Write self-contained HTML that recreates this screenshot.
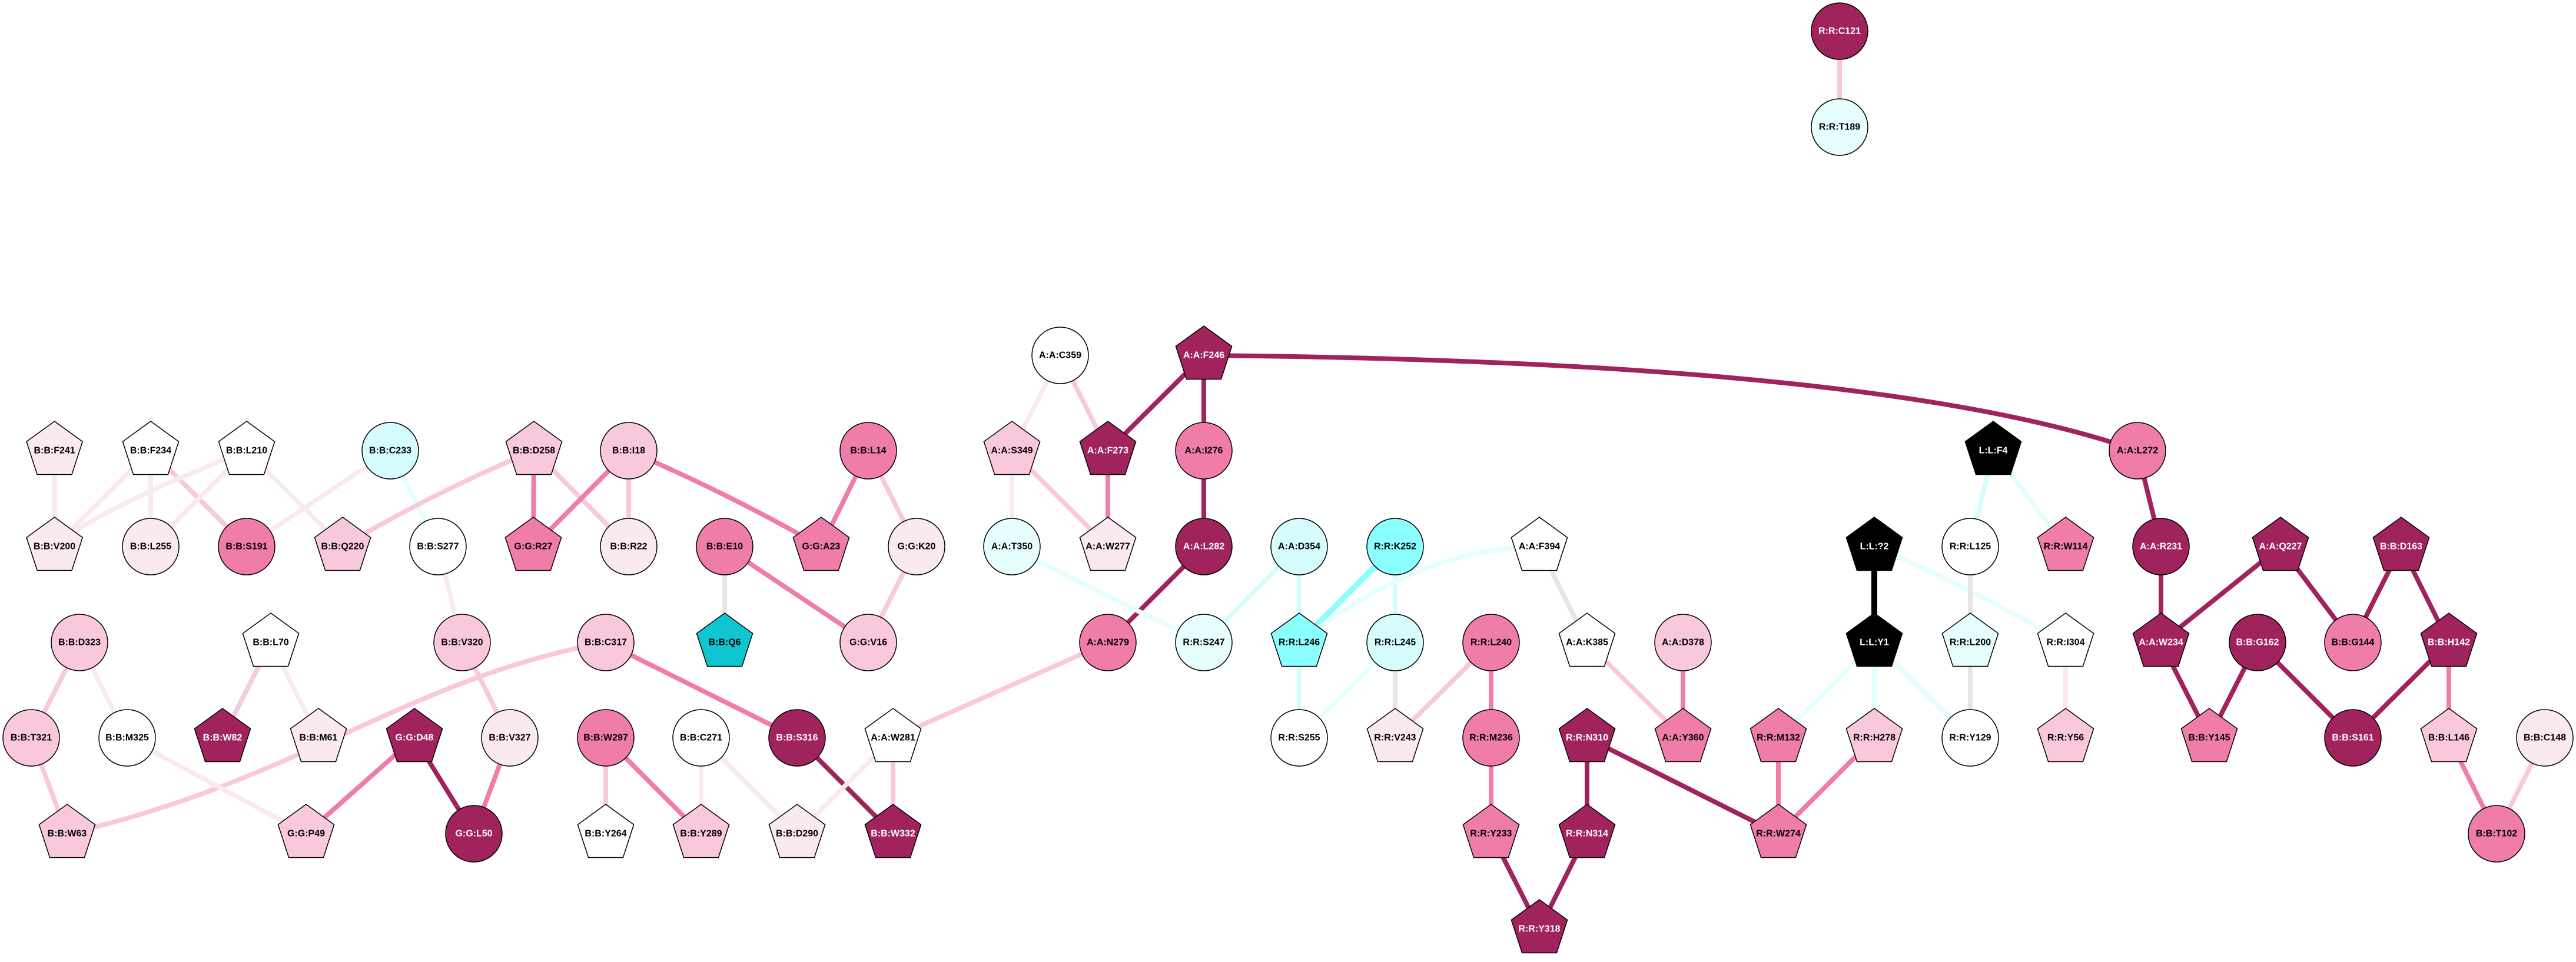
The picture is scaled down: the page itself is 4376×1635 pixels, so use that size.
<!DOCTYPE html>
<html><head><meta charset="utf-8"><style>
html,body{margin:0;padding:0;background:#fff;}
svg{display:block;}
text{font-family:"Liberation Sans",Arial,sans-serif;font-weight:bold;font-size:16px;text-anchor:middle;dominant-baseline:central;}
.w{fill:#fff;}
</style></head><body>
<svg width="4376" height="1635" viewBox="0 0 4376 1635" xmlns="http://www.w3.org/2000/svg">
<defs>
<polygon id="pg" points="0,-50 47.6,-15.5 29.4,40.5 -29.4,40.5 -47.6,-15.5"/>
</defs>
<g fill="none" stroke-width="8" stroke-linecap="butt">
<!-- top -->
<line x1="3125" y1="53" x2="3125" y2="216" stroke="#f9c8dc"/>
<!-- left cluster -->
<line x1="92.6" y1="766" x2="92.6" y2="929" stroke="#fbe9f2"/>
<line x1="256" y1="766" x2="92.6" y2="929" stroke="#fbe9f2"/>
<line x1="256" y1="766" x2="256" y2="929" stroke="#fbe9f2"/>
<line x1="256" y1="766" x2="419" y2="929" stroke="#f9c8dc"/>
<path d="M419,766 Q164,866 92.6,929" stroke="#fbe9f2"/>
<line x1="419" y1="766" x2="256" y2="929" stroke="#fbe9f2"/>
<line x1="419" y1="766" x2="582" y2="929" stroke="#fbe9f2"/>
<line x1="663" y1="766" x2="419" y2="929" stroke="#fbe9f2"/>
<line x1="663" y1="766" x2="744" y2="929" stroke="#e6fefe"/>
<path d="M907,766 Q726,842 582,929" stroke="#f9c8dc"/>
<line x1="907" y1="766" x2="906" y2="929" stroke="#f07caa"/>
<line x1="907" y1="766" x2="1068" y2="929" stroke="#f9c8dc"/>
<line x1="1068" y1="766" x2="906" y2="929" stroke="#f07caa"/>
<line x1="1068" y1="766" x2="1068" y2="929" stroke="#f9c8dc"/>
<path d="M1068,766 Q1240,840 1395,929" stroke="#f07caa"/>
<line x1="744" y1="929" x2="785" y2="1092" stroke="#fbe9f2"/>
<line x1="135" y1="1092" x2="53" y2="1254" stroke="#f9c8dc"/>
<line x1="135" y1="1092" x2="216" y2="1254" stroke="#fbe9f2"/>
<line x1="460" y1="1092" x2="378" y2="1254" stroke="#f9c8dc"/>
<line x1="460" y1="1092" x2="541" y2="1254" stroke="#fbe9f2"/>
<line x1="785" y1="1092" x2="866" y2="1254" stroke="#f9c8dc"/>
<path d="M1029,1092 C700,1150 500,1330 114,1417" stroke="#f9c8dc"/>
<line x1="1029" y1="1092" x2="1354" y2="1254" stroke="#f07caa"/>
<line x1="53" y1="1254" x2="114" y2="1417" stroke="#f9c8dc"/>
<line x1="216" y1="1254" x2="520" y2="1417" stroke="#fbe9f2"/>
<line x1="704" y1="1254" x2="520" y2="1417" stroke="#f07caa"/>
<line x1="704" y1="1254" x2="805" y2="1417" stroke="#a0235e"/>
<line x1="866" y1="1254" x2="805" y2="1417" stroke="#f07caa"/>
<line x1="1029" y1="1254" x2="1029" y2="1417" stroke="#f9c8dc"/>
<line x1="1029" y1="1254" x2="1191" y2="1417" stroke="#f07caa"/>
<!-- middle -->
<line x1="1475" y1="766" x2="1395" y2="929" stroke="#f07caa"/>
<line x1="1475" y1="766" x2="1557" y2="929" stroke="#f9c8dc"/>
<line x1="1231" y1="929" x2="1231" y2="1092" stroke="#e6e6e6"/>
<line x1="1231" y1="929" x2="1475" y2="1092" stroke="#f07caa"/>
<line x1="1557" y1="929" x2="1475" y2="1092" stroke="#f9c8dc"/>
<line x1="1801" y1="604" x2="1719" y2="766" stroke="#fbe9f2"/>
<line x1="1801" y1="604" x2="1882" y2="766" stroke="#f9c8dc"/>
<line x1="2045" y1="604" x2="1882" y2="766" stroke="#a0235e"/>
<line x1="2045" y1="604" x2="2045" y2="766" stroke="#a0235e"/>
<path d="M2045,604 C2700,610 3300,650 3631,766" stroke="#a0235e"/>
<line x1="1719" y1="766" x2="1719" y2="929" stroke="#fbe9f2"/>
<line x1="1719" y1="766" x2="1882" y2="929" stroke="#f9c8dc"/>
<line x1="1882" y1="766" x2="1882" y2="929" stroke="#f07caa"/>
<line x1="2045" y1="766" x2="2045" y2="929" stroke="#a0235e"/>
<line x1="2045" y1="929" x2="1882" y2="1092" stroke="#a0235e"/>
<path d="M1719,929 Q1860,1005 2045,1092" stroke="#e6fefe"/>
<line x1="2207" y1="929" x2="2045" y2="1092" stroke="#d5fdfd"/>
<line x1="2207" y1="929" x2="2207" y2="1092" stroke="#d5fdfd"/>
<line x1="1882" y1="1092" x2="1517" y2="1254" stroke="#f9c8dc"/>
<line x1="1191" y1="1254" x2="1191" y2="1417" stroke="#fbe9f2"/>
<line x1="1191" y1="1254" x2="1354" y2="1417" stroke="#fbe9f2"/>
<line x1="1354" y1="1254" x2="1517" y2="1417" stroke="#a0235e"/>
<line x1="1517" y1="1254" x2="1354" y2="1417" stroke="#fbe9f2"/>
<line x1="1517" y1="1254" x2="1517" y2="1417" stroke="#f9c8dc"/>
<!-- R cluster -->
<line x1="2370" y1="929" x2="2207" y2="1092" stroke="#8bfefe" stroke-width="10"/>
<line x1="2370" y1="929" x2="2370" y2="1092" stroke="#d5fdfd"/>
<path d="M2615,929 Q2412,930 2207,1092" stroke="#e6fefe"/>
<line x1="2615" y1="929" x2="2696" y2="1092" stroke="#e6e6e6"/>
<line x1="2207" y1="1092" x2="2207" y2="1254" stroke="#d5fdfd"/>
<line x1="2370" y1="1092" x2="2207" y2="1254" stroke="#e6fefe"/>
<line x1="2370" y1="1092" x2="2370" y2="1254" stroke="#e6e6e6"/>
<line x1="2533" y1="1092" x2="2370" y2="1254" stroke="#f9c8dc"/>
<line x1="2533" y1="1092" x2="2533" y2="1254" stroke="#f07caa"/>
<line x1="2696" y1="1092" x2="2859" y2="1254" stroke="#f9c8dc"/>
<line x1="2859" y1="1092" x2="2859" y2="1254" stroke="#f07caa"/>
<line x1="2533" y1="1254" x2="2533" y2="1417" stroke="#f07caa"/>
<line x1="2696" y1="1254" x2="2696" y2="1417" stroke="#a0235e"/>
<line x1="2696" y1="1254" x2="3021" y2="1417" stroke="#a0235e"/>
<line x1="2533" y1="1417" x2="2615" y2="1579" stroke="#a0235e"/>
<line x1="2696" y1="1417" x2="2615" y2="1579" stroke="#a0235e"/>
<line x1="3021" y1="1254" x2="3021" y2="1417" stroke="#f07caa"/>
<line x1="3184" y1="1254" x2="3021" y2="1417" stroke="#f07caa"/>
<line x1="3184" y1="929" x2="3184" y2="1092" stroke="#000" stroke-width="10"/>
<path d="M3184,929 Q3330,990 3509,1092" stroke="#e6fefe"/>
<line x1="3184" y1="1092" x2="3021" y2="1254" stroke="#e6fefe"/>
<line x1="3184" y1="1092" x2="3184" y2="1254" stroke="#e6fefe"/>
<line x1="3184" y1="1092" x2="3347" y2="1254" stroke="#e6fefe"/>
<!-- right cluster -->
<line x1="3386" y1="766" x2="3347" y2="929" stroke="#d5fdfd"/>
<line x1="3386" y1="766" x2="3509" y2="929" stroke="#e6fefe"/>
<line x1="3347" y1="929" x2="3347" y2="1092" stroke="#e6e6e6"/>
<line x1="3347" y1="1092" x2="3347" y2="1254" stroke="#e6e6e6"/>
<line x1="3509" y1="1092" x2="3509" y2="1254" stroke="#fbe9f2"/>
<line x1="3631" y1="766" x2="3671" y2="929" stroke="#a0235e"/>
<line x1="3671" y1="929" x2="3671" y2="1092" stroke="#a0235e"/>
<line x1="3874" y1="929" x2="3671" y2="1092" stroke="#a0235e"/>
<line x1="3874" y1="929" x2="3997" y2="1092" stroke="#a0235e"/>
<line x1="4079" y1="929" x2="3997" y2="1092" stroke="#a0235e"/>
<line x1="4079" y1="929" x2="4160" y2="1092" stroke="#a0235e"/>
<line x1="3671" y1="1092" x2="3753" y2="1254" stroke="#a0235e"/>
<line x1="3835" y1="1092" x2="3753" y2="1254" stroke="#a0235e"/>
<line x1="3835" y1="1092" x2="3997" y2="1254" stroke="#a0235e"/>
<line x1="4160" y1="1092" x2="3997" y2="1254" stroke="#a0235e"/>
<line x1="4160" y1="1092" x2="4160" y2="1254" stroke="#f07caa"/>
<line x1="4160" y1="1254" x2="4241" y2="1417" stroke="#f07caa"/>
<line x1="4323" y1="1254" x2="4241" y2="1417" stroke="#f9c8dc"/>
</g>
<g stroke="#000" stroke-width="1.5">
<!-- circles: class c; pentagons via use -->
<circle cx="3125" cy="53" r="48" fill="#a0235e"/>
<circle cx="3125" cy="216" r="48" fill="#e6fefe"/>
<use href="#pg" x="92.6" y="766" fill="#fbe9f2"/>
<use href="#pg" x="256" y="766" fill="#fff"/>
<use href="#pg" x="419" y="766" fill="#fff"/>
<circle cx="663" cy="766" r="48" fill="#d5fdfd"/>
<use href="#pg" x="907" y="766" fill="#f9c8dc"/>
<circle cx="1068" cy="766" r="48" fill="#f9c8dc"/>
<use href="#pg" x="92.6" y="929" fill="#fbe9f2"/>
<circle cx="256" cy="929" r="48" fill="#fbe9f2"/>
<circle cx="419" cy="929" r="48" fill="#f07caa"/>
<use href="#pg" x="582" y="929" fill="#f9c8dc"/>
<circle cx="744" cy="929" r="48" fill="#fff"/>
<use href="#pg" x="906" y="929" fill="#f07caa"/>
<circle cx="1068" cy="929" r="48" fill="#fbe9f2"/>
<circle cx="135" cy="1092" r="48" fill="#f9c8dc"/>
<use href="#pg" x="460" y="1092" fill="#fff"/>
<circle cx="785" cy="1092" r="48" fill="#f9c8dc"/>
<circle cx="1029" cy="1092" r="48" fill="#f9c8dc"/>
<circle cx="53" cy="1254" r="48" fill="#f9c8dc"/>
<circle cx="216" cy="1254" r="48" fill="#fff"/>
<use href="#pg" x="378" y="1254" fill="#a0235e"/>
<use href="#pg" x="541" y="1254" fill="#fbe9f2"/>
<use href="#pg" x="704" y="1254" fill="#a0235e"/>
<circle cx="866" cy="1254" r="48" fill="#fbe9f2"/>
<circle cx="1029" cy="1254" r="48" fill="#f07caa"/>
<use href="#pg" x="114" y="1417" fill="#f9c8dc"/>
<use href="#pg" x="520" y="1417" fill="#f9c8dc"/>
<circle cx="805" cy="1417" r="48" fill="#a0235e"/>
<use href="#pg" x="1029" y="1417" fill="#fff"/>
<circle cx="1475" cy="766" r="48" fill="#f07caa"/>
<use href="#pg" x="1719" y="766" fill="#f9c8dc"/>
<use href="#pg" x="1882" y="766" fill="#a0235e"/>
<circle cx="2045" cy="766" r="48" fill="#f07caa"/>
<circle cx="1801" cy="604" r="48" fill="#fff"/>
<use href="#pg" x="2045" y="604" fill="#a0235e"/>
<circle cx="1231" cy="929" r="48" fill="#f07caa"/>
<use href="#pg" x="1395" y="929" fill="#f07caa"/>
<circle cx="1557" cy="929" r="48" fill="#fbe9f2"/>
<circle cx="1719" cy="929" r="48" fill="#e6fefe"/>
<use href="#pg" x="1882" y="929" fill="#fbe9f2"/>
<circle cx="2045" cy="929" r="48" fill="#a0235e"/>
<circle cx="2207" cy="929" r="48" fill="#d5fdfd"/>
<use href="#pg" x="1231" y="1092" fill="#0fc5d0"/>
<circle cx="1475" cy="1092" r="48" fill="#f9c8dc"/>
<circle cx="1882" cy="1092" r="48" fill="#f07caa"/>
<circle cx="2045" cy="1092" r="48" fill="#e6fefe"/>
<use href="#pg" x="2207" y="1092" fill="#8bfefe"/>
<circle cx="1191" cy="1254" r="48" fill="#fff"/>
<circle cx="1354" cy="1254" r="48" fill="#a0235e"/>
<use href="#pg" x="1517" y="1254" fill="#fff"/>
<use href="#pg" x="1191" y="1417" fill="#f9c8dc"/>
<use href="#pg" x="1354" y="1417" fill="#fbe9f2"/>
<use href="#pg" x="1517" y="1417" fill="#a0235e"/>
<circle cx="2370" cy="929" r="48" fill="#8bfefe"/>
<use href="#pg" x="2615" y="929" fill="#fff"/>
<use href="#pg" x="3184" y="929" fill="#000"/>
<circle cx="2370" cy="1092" r="48" fill="#d5fdfd"/>
<circle cx="2533" cy="1092" r="48" fill="#f07caa"/>
<use href="#pg" x="2696" y="1092" fill="#fff"/>
<circle cx="2859" cy="1092" r="48" fill="#f9c8dc"/>
<use href="#pg" x="3184" y="1092" fill="#000"/>
<circle cx="2207" cy="1254" r="48" fill="#fff"/>
<use href="#pg" x="2370" y="1254" fill="#fbe9f2"/>
<circle cx="2533" cy="1254" r="48" fill="#f07caa"/>
<use href="#pg" x="2696" y="1254" fill="#a0235e"/>
<use href="#pg" x="2859" y="1254" fill="#f07caa"/>
<use href="#pg" x="3021" y="1254" fill="#f07caa"/>
<use href="#pg" x="3184" y="1254" fill="#f9c8dc"/>
<use href="#pg" x="2533" y="1417" fill="#f07caa"/>
<use href="#pg" x="2696" y="1417" fill="#a0235e"/>
<use href="#pg" x="3021" y="1417" fill="#f07caa"/>
<use href="#pg" x="2615" y="1579" fill="#a0235e"/>
<use href="#pg" x="3386" y="766" fill="#000"/>
<circle cx="3631" cy="766" r="48" fill="#f07caa"/>
<circle cx="3347" cy="929" r="48" fill="#fff"/>
<use href="#pg" x="3509" y="929" fill="#f07caa"/>
<circle cx="3671" cy="929" r="48" fill="#a0235e"/>
<use href="#pg" x="3874" y="929" fill="#a0235e"/>
<use href="#pg" x="4079" y="929" fill="#a0235e"/>
<use href="#pg" x="3347" y="1092" fill="#e6fefe"/>
<use href="#pg" x="3509" y="1092" fill="#fff"/>
<use href="#pg" x="3671" y="1092" fill="#a0235e"/>
<circle cx="3835" cy="1092" r="48" fill="#a0235e"/>
<circle cx="3997" cy="1092" r="48" fill="#f07caa"/>
<use href="#pg" x="4160" y="1092" fill="#a0235e"/>
<circle cx="3347" cy="1254" r="48" fill="#fff"/>
<use href="#pg" x="3509" y="1254" fill="#f9c8dc"/>
<use href="#pg" x="3753" y="1254" fill="#f07caa"/>
<circle cx="3997" cy="1254" r="48" fill="#a0235e"/>
<use href="#pg" x="4160" y="1254" fill="#f9c8dc"/>
<circle cx="4323" cy="1254" r="48" fill="#fbe9f2"/>
<circle cx="4241" cy="1417" r="48" fill="#f07caa"/>
</g>
<g>
<text x="3125" y="53" class="w">R:R:C121</text>
<text x="3125" y="216">R:R:T189</text>
<text x="92.6" y="766">B:B:F241</text>
<text x="256" y="766">B:B:F234</text>
<text x="419" y="766">B:B:L210</text>
<text x="663" y="766">B:B:C233</text>
<text x="907" y="766">B:B:D258</text>
<text x="1068" y="766">B:B:I18</text>
<text x="92.6" y="929">B:B:V200</text>
<text x="256" y="929">B:B:L255</text>
<text x="419" y="929">B:B:S191</text>
<text x="582" y="929">B:B:Q220</text>
<text x="744" y="929">B:B:S277</text>
<text x="906" y="929">G:G:R27</text>
<text x="1068" y="929">B:B:R22</text>
<text x="135" y="1092">B:B:D323</text>
<text x="460" y="1092">B:B:L70</text>
<text x="785" y="1092">B:B:V320</text>
<text x="1029" y="1092">B:B:C317</text>
<text x="53" y="1254">B:B:T321</text>
<text x="216" y="1254">B:B:M325</text>
<text x="378" y="1254" class="w">B:B:W82</text>
<text x="541" y="1254">B:B:M61</text>
<text x="704" y="1254" class="w">G:G:D48</text>
<text x="866" y="1254">B:B:V327</text>
<text x="1029" y="1254">B:B:W297</text>
<text x="114" y="1417">B:B:W63</text>
<text x="520" y="1417">G:G:P49</text>
<text x="805" y="1417" class="w">G:G:L50</text>
<text x="1029" y="1417">B:B:Y264</text>
<text x="1475" y="766">B:B:L14</text>
<text x="1719" y="766">A:A:S349</text>
<text x="1882" y="766" class="w">A:A:F273</text>
<text x="2045" y="766">A:A:I276</text>
<text x="1801" y="604">A:A:C359</text>
<text x="2045" y="604" class="w">A:A:F246</text>
<text x="1231" y="929">B:B:E10</text>
<text x="1395" y="929">G:G:A23</text>
<text x="1557" y="929">G:G:K20</text>
<text x="1719" y="929">A:A:T350</text>
<text x="1882" y="929">A:A:W277</text>
<text x="2045" y="929" class="w">A:A:L282</text>
<text x="2207" y="929">A:A:D354</text>
<text x="1231" y="1092">B:B:Q6</text>
<text x="1475" y="1092">G:G:V16</text>
<text x="1882" y="1092">A:A:N279</text>
<text x="2045" y="1092">R:R:S247</text>
<text x="2207" y="1092">R:R:L246</text>
<text x="1191" y="1254">B:B:C271</text>
<text x="1354" y="1254" class="w">B:B:S316</text>
<text x="1517" y="1254">A:A:W281</text>
<text x="1191" y="1417">B:B:Y289</text>
<text x="1354" y="1417">B:B:D290</text>
<text x="1517" y="1417" class="w">B:B:W332</text>
<text x="2370" y="929">R:R:K252</text>
<text x="2615" y="929">A:A:F394</text>
<text x="3184" y="929" class="w">L:L:?2</text>
<text x="2370" y="1092">R:R:L245</text>
<text x="2533" y="1092">R:R:L240</text>
<text x="2696" y="1092">A:A:K385</text>
<text x="2859" y="1092">A:A:D378</text>
<text x="3184" y="1092" class="w">L:L:Y1</text>
<text x="2207" y="1254">R:R:S255</text>
<text x="2370" y="1254">R:R:V243</text>
<text x="2533" y="1254">R:R:M236</text>
<text x="2696" y="1254" class="w">R:R:N310</text>
<text x="2859" y="1254">A:A:Y360</text>
<text x="3021" y="1254">R:R:M132</text>
<text x="3184" y="1254">R:R:H278</text>
<text x="2533" y="1417">R:R:Y233</text>
<text x="2696" y="1417" class="w">R:R:N314</text>
<text x="3021" y="1417">R:R:W274</text>
<text x="2615" y="1579" class="w">R:R:Y318</text>
<text x="3386" y="766" class="w">L:L:F4</text>
<text x="3631" y="766">A:A:L272</text>
<text x="3347" y="929">R:R:L125</text>
<text x="3509" y="929">R:R:W114</text>
<text x="3671" y="929" class="w">A:A:R231</text>
<text x="3874" y="929" class="w">A:A:Q227</text>
<text x="4079" y="929" class="w">B:B:D163</text>
<text x="3347" y="1092">R:R:L200</text>
<text x="3509" y="1092">R:R:I304</text>
<text x="3671" y="1092" class="w">A:A:W234</text>
<text x="3835" y="1092" class="w">B:B:G162</text>
<text x="3997" y="1092">B:B:G144</text>
<text x="4160" y="1092" class="w">B:B:H142</text>
<text x="3347" y="1254">R:R:Y129</text>
<text x="3509" y="1254">R:R:Y56</text>
<text x="3753" y="1254">B:B:Y145</text>
<text x="3997" y="1254" class="w">B:B:S161</text>
<text x="4160" y="1254">B:B:L146</text>
<text x="4323" y="1254">B:B:C148</text>
<text x="4241" y="1417">B:B:T102</text>
</g>
</svg>
</body></html>
